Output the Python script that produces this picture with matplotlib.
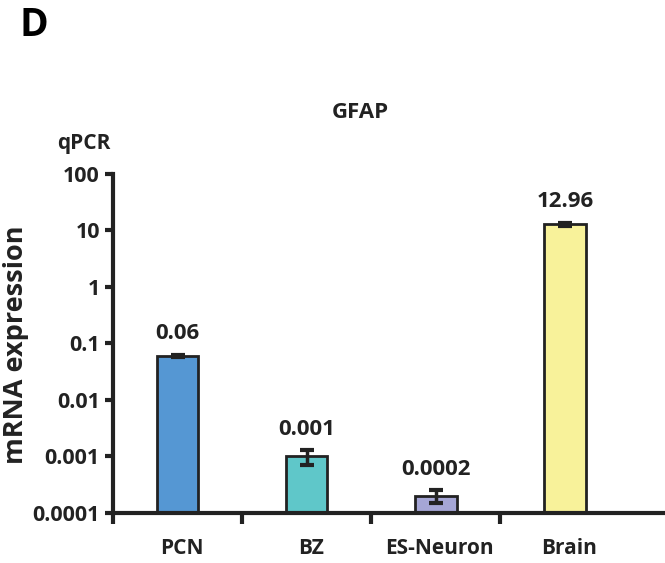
import matplotlib.pyplot as plt
import numpy as np

plt.rcParams['font.family'] = ['Open Sans', 'DejaVu Sans']
plt.rcParams['font.weight'] = 'bold'

# --- Daten ---
categories = ["PCN", "BZ", "ES-Neuron", "Brain"]
values = [0.06, 0.001, 0.0002, 12.96]
errors = [0.003, 0.0003, 0.00005, 0.8]
labels = ["0.06", "0.001", "0.0002", "12.96"]
colors = ["#5597D3", "#5FC7C9", "#A5A6D6", "#F8F29A"]
yticks = [0.0001, 0.001, 0.01, 0.1, 1, 10, 100]
ytick_labels = ["0.0001", "0.001", "0.01", "0.1", "1", "10", "100"]

txt = "#222222"

fig = plt.figure(figsize=(6.65, 5.63), dpi=100)
ax = fig.add_axes([0.170, 0.089, 0.835, 0.602])

x = np.arange(len(categories)) + 0.5
ax.bar(x, values, width=0.32, color=colors, edgecolor=txt, linewidth=2, zorder=2)
ax.errorbar(x, values, yerr=errors, fmt="none", ecolor=txt, elinewidth=2.5,
            capsize=5, capthick=3, zorder=3)

for xi, v, e, lab in zip(x, values, errors, labels):
    ax.annotate(lab, (xi, v + e), xytext=(0, 15), textcoords="offset points",
                ha="center", va="center", fontsize=16, fontweight="bold", color=txt)

ax.set_yscale("log")
ax.set_ylim(0.0001, 100)
ax.set_xlim(0, 4.3)
ax.set_yticks(yticks)
ax.set_yticklabels(ytick_labels)
ax.minorticks_off()
ax.set_xticks([0, 1, 2, 3])
ax.set_xticklabels([])
for xi, c in zip(x, categories):
    ax.text(xi + 0.03, -0.106, c, transform=ax.get_xaxis_transform(), ha="center", va="center",
            fontsize=15, fontweight="bold", color=txt)

for s in ["top", "right"]:
    ax.spines[s].set_visible(False)
for s in ["left", "bottom"]:
    ax.spines[s].set_linewidth(3)
    ax.spines[s].set_color(txt)
ax.tick_params(axis="y", length=6, width=3, colors=txt, labelsize=15.5, pad=3.5)
ax.tick_params(axis="x", length=8, width=3, colors=txt)

fig.text(16 / 665, 1 - 345 / 563, "mRNA expression", rotation=90, ha="center", va="center",
         fontsize=19.5, fontweight="bold", color=txt)
fig.text(360 / 665, 1 - 113 / 563, "GFAP", ha="center", va="center",
         fontsize=16, fontweight="bold", color=txt)
fig.text(84 / 665, 1 - 143 / 563, "qPCR", ha="center", va="center", fontsize=15, fontweight="bold", color=txt)
fig.text(34 / 665, 1 - 25 / 563, "D", ha="center", va="center", fontsize=28, fontweight="bold", color="black")

fig.savefig("out.png", dpi=100)
